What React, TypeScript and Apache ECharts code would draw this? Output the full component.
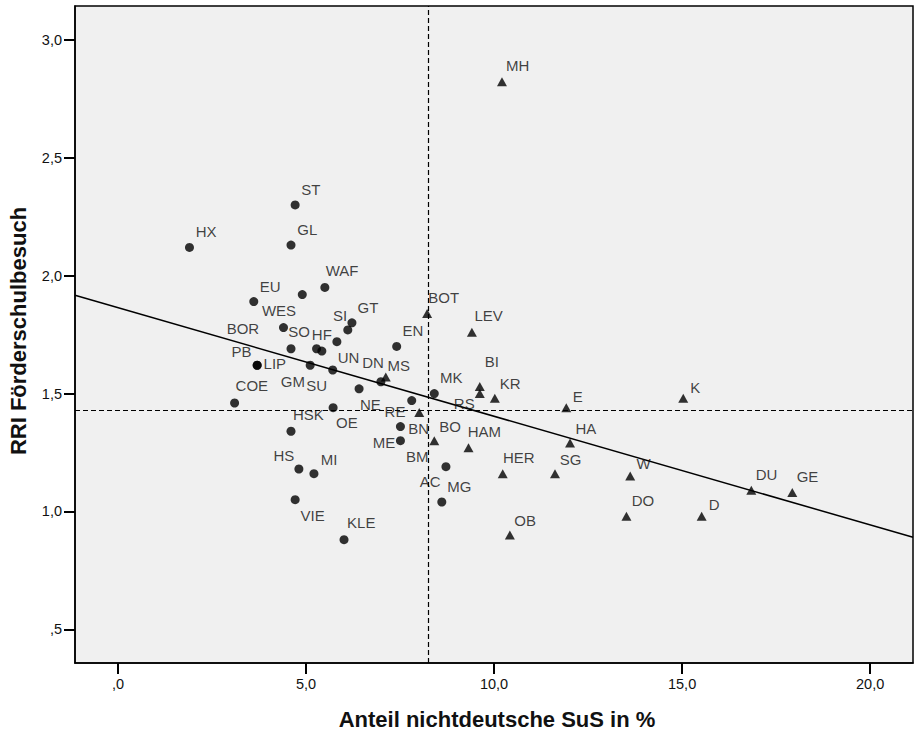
import React, { useEffect, useRef } from "react";
import * as echarts from "echarts";

// ---- data ----
const circleNames = ["HX","ST","GL","EU","WES","WAF","BOR","SO","LIP","PB","GM","SU","","HF","UN","SI","GT","EN","NE","DN","RE","MK","COE","OE","HSK","ME","BM","AC","HS","MI","VIE","MG","KLE"];
const circleX = [1.90,4.71,4.60,3.61,4.90,5.50,4.40,4.60,3.70,3.70,5.11,5.71,5.28,5.42,5.82,6.11,6.22,7.41,6.41,6.99,7.81,8.41,3.10,5.72,4.60,7.51,7.51,8.72,4.81,5.21,4.71,8.61,6.01];
const circleY = [2.12,2.30,2.13,1.89,1.92,1.95,1.78,1.69,1.62,1.62,1.62,1.60,1.69,1.68,1.72,1.77,1.80,1.70,1.52,1.55,1.47,1.50,1.46,1.44,1.34,1.36,1.30,1.19,1.18,1.16,1.05,1.04,0.88];

const triangleNames = ["MH","BOT","LEV","BI","RS","KR","E","K","BN","BO","HAM","HA","HER","SG","W","DU","GE","DO","D","OB","MS"];
const triangleX = [10.21,8.22,9.41,9.62,9.62,10.02,11.92,15.03,8.01,8.41,9.32,12.02,10.23,11.62,13.62,16.84,17.93,13.52,15.52,10.42,7.12];
const triangleY = [2.823,1.84,1.76,1.53,1.50,1.48,1.44,1.48,1.42,1.30,1.27,1.29,1.16,1.16,1.15,1.09,1.08,0.98,0.98,0.90,1.57];

const xTicks = [0, 5, 10, 15, 20];
const yTicks = [0.5, 1.0, 1.5, 2.0, 2.5, 3.0];
const xRange = [-1.144, 21.14];
const yRange = [0.357, 3.144];
const meanX = 8.25;
const meanY = 1.427;
const regIntercept = 1.8644;
const regSlope = -0.04607;

const xTitle = "Anteil nichtdeutsche SuS in %";
const yTitle = "RRI Förderschulbesuch";

// ---- label placement (style) ----
const labelNudge: Record<string, [number, number]> = {
  HX: [16.7, -16], ST: [15.7, -15], GL: [16.3, -15.3], EU: [16.3, -15.3], WES: [-23.3, 16],
  WAF: [17.3, -16.7], BOR: [-40.6, 1.4], SO: [8.2, -16.8], LIP: [17.7, -2.1], PB: [-15.6, -13.6],
  GM: [-17.3, 16.4], SU: [-16, 15.7], HF: [0, -17], UN: [11.6, 15.8], SI: [-7.7, -14],
  GT: [16.1, -15.5], EN: [16.3, -15.9], NE: [11.3, 15.2], DN: [-7.8, -19.5], RE: [-16.7, 11],
  MK: [17, -16.5], COE: [17.2, -17], OE: [13.7, 15.3], HSK: [17.3, -16.5], ME: [-16.5, 15.5],
  BM: [16.7, 15.4], AC: [-15.7, 15.2], HS: [-15, -13.1], MI: [15.2, -14.6], VIE: [17.5, 15.5],
  MG: [17.5, -15.6], KLE: [17.2, -17],
  MH: [15.7, -15.7], BOT: [16.5, -16], LEV: [16.7, -16.7], BI: [12, -24.5], RS: [-15.5, 9.8],
  KR: [15.3, -14.8], E: [11.5, -11.2], K: [12, -11], BN: [-0.5, 15.8], BO: [15.7, -14.5],
  HAM: [15.9, -15.9], HA: [15.8, -14.5], HER: [16.1, -16.6], SG: [15.5, -14.5], W: [13.4, -12.8],
  DU: [15.2, -15.5], GE: [15.2, -15.7], DO: [16.5, -15.4], D: [12.5, -11.5], OB: [15.3, -14.5],
  MS: [13, -11.5],
};

const FONT = "'Liberation Sans', Arial, Helvetica, sans-serif";

const fmt = (v: number) => {
  const s = v.toFixed(1).replace(".", ",");
  return s.startsWith("0") ? s.slice(1) : s;
};

const toPoints = (names: string[], xs: number[], ys: number[]) =>
  names.map((n, i) => ({
    name: n,
    value: [xs[i], ys[i]],
    label: n
      ? { show: true, offset: labelNudge[n] || [15, -15] }
      : { show: false },
  }));

export default function App() {
  const ref = useRef<HTMLDivElement>(null);

  useEffect(() => {
    if (!ref.current) return;
    const chart = echarts.init(ref.current, undefined, { renderer: "svg" });

    const pointLabel = {
      show: true,
      position: "inside",
      formatter: "{b}",
      color: "#111",
      fontFamily: FONT,
      fontSize: 15,
      align: "center",
      verticalAlign: "middle",
      textBorderWidth: 0,
    };

    const axisLabel = {
      color: "#111",
      fontFamily: FONT,
      fontSize: 14.5,
      margin: 13,
      formatter: (v: number) => fmt(v),
    };
    const axisLine = { show: true, onZero: false, lineStyle: { color: "#000", width: 1.5 } };
    const tickStyle = { show: true, inside: false, length: 11, lineStyle: { color: "#000", width: 2 } };

    chart.setOption({
      animation: false,
      backgroundColor: "#fff",
      grid: {
        left: 75,
        top: 6,
        right: 2,
        bottom: 68,
        show: true,
        backgroundColor: "#f0f0f0",
        borderColor: "#000",
        borderWidth: 1.5,
      },
      xAxis: {
        type: "value",
        position: "bottom",
        min: xRange[0],
        max: xRange[1],
        axisLine,
        splitLine: { show: false },
        axisTick: { ...tickStyle, customValues: xTicks },
        axisLabel: { ...axisLabel, customValues: xTicks },
      },
      yAxis: {
        type: "value",
        position: "left",
        min: yRange[0],
        max: yRange[1],
        axisLine,
        splitLine: { show: false },
        axisTick: { ...tickStyle, customValues: yTicks },
        axisLabel: { ...axisLabel, customValues: yTicks },
      },
      series: [
        {
          type: "line",
          data: [
            [xRange[0], regIntercept + regSlope * xRange[0]],
            [xRange[1], regIntercept + regSlope * xRange[1]],
          ],
          showSymbol: false,
          symbol: "none",
          lineStyle: { color: "#000", width: 1.5 },
          silent: true,
          z: 2,
          markLine: {
            silent: true,
            symbol: ["none", "none"],
            label: { show: false },
            lineStyle: { color: "#000", width: 1.2, type: [5, 3] },
            data: [{ xAxis: meanX }, { yAxis: meanY }],
          },
        },
        {
          type: "scatter",
          symbol: "circle",
          symbolSize: 9,
          itemStyle: { color: "#000" },
          label: pointLabel,
          data: toPoints(circleNames, circleX, circleY),
          z: 3,
        },
        {
          type: "scatter",
          symbol: "triangle",
          symbolSize: [10, 9],
          itemStyle: { color: "#000" },
          label: pointLabel,
          data: toPoints(triangleNames, triangleX, triangleY),
          z: 3,
        },
      ],
      graphic: [
        {
          type: "text",
          x: 497,
          y: 719,
          style: {
            text: xTitle,
            fontFamily: FONT,
            fontSize: 22,
            fontWeight: "bold",
            fill: "#111",
            align: "center",
            verticalAlign: "middle",
          },
        },
        {
          type: "text",
          x: 18,
          y: 331,
          rotation: Math.PI / 2,
          style: {
            text: yTitle,
            fontFamily: FONT,
            fontSize: 22,
            fontWeight: "bold",
            fill: "#111",
            align: "center",
            verticalAlign: "middle",
          },
        },
      ],
    });

    return () => chart.dispose();
  }, []);

  return (
    <div
      ref={ref}
      style={{ position: "fixed", left: 0, top: 0, width: 915, height: 731 }}
    />
  );
}
